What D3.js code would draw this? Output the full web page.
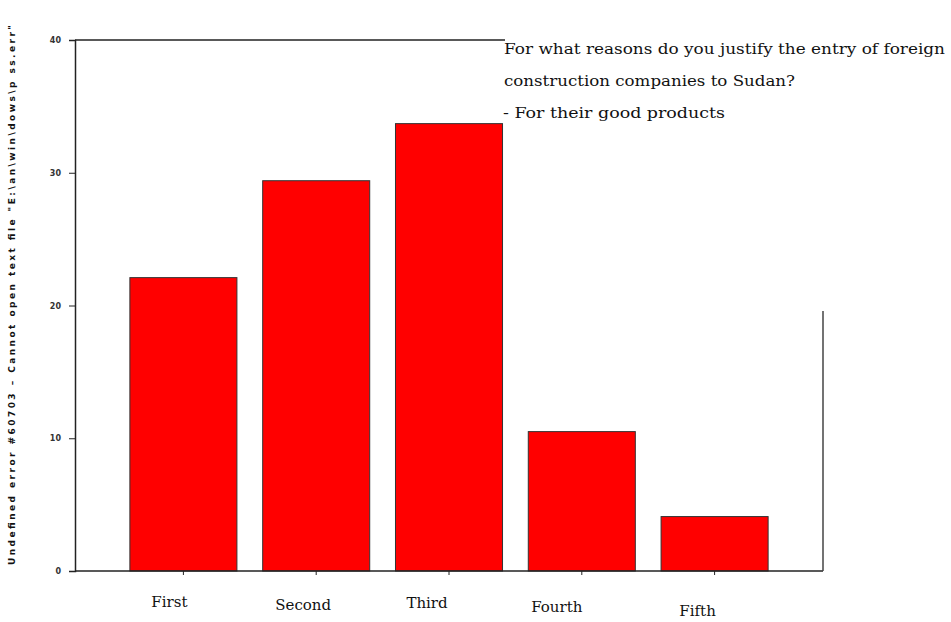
<!DOCTYPE html>
<html><head><meta charset="utf-8">
<script src="https://cdn.jsdelivr.net/npm/d3@7"></script>
<style>body{margin:0;background:#fff;} svg{display:block;}</style>
</head><body>
<svg id="c" width="951" height="622"></svg>
<script>
const categories = ["First","Second","Third","Fourth","Fifth"];
const values = [22.1, 29.4, 33.7, 10.5, 4.1];
const yTicks = [0,10,20,30,40];
const titleLines = ["For what reasons  do you justify the entry of foreign","construction companies to Sudan?","- For their good products"];
const yTitle = "Undefined error #60703  \u2013  Cannot open text file  \"E:\\an\\win\\dows\\p ss.err\"";
const labelDy = [0, 3, 1, 5, 9];
const labelDx = [-14, -13, -22, -25, -17];

const svg = d3.select("#c");
const mLeft = 75, mRight = 823, mTop = 40, mBottom = 571;
const x = d3.scaleBand().domain(categories).range([117, 781]).paddingInner(0.194).paddingOuter(0.097);
const y = d3.scaleLinear().domain([0,40]).range([mBottom, mTop]);

// bars
svg.selectAll("rect.bar").data(values).join("rect")
  .attr("class","bar")
  .attr("x",(d,i)=>x(categories[i]))
  .attr("width",x.bandwidth())
  .attr("y",d=>y(d))
  .attr("height",d=>mBottom-y(d))
  .attr("fill","#ff0000").attr("stroke","#333").attr("stroke-width",1);

// frame lines
svg.append("line").attr("x1",mLeft).attr("x2",mRight).attr("y1",mBottom).attr("y2",mBottom).attr("stroke","#222").attr("stroke-width",1.5);
svg.append("line").attr("x1",mLeft).attr("x2",505).attr("y1",mTop).attr("y2",mTop).attr("stroke","#222").attr("stroke-width",1.5);
svg.append("line").attr("x1",mRight).attr("x2",mRight).attr("y1",311).attr("y2",mBottom).attr("stroke","#444").attr("stroke-width",1.5);

// y axis
const ya = svg.append("g").attr("transform",`translate(${mLeft},0)`)
  .call(d3.axisLeft(y).tickValues(yTicks).tickSize(6).tickFormat(d3.format("d")));
ya.select(".domain").attr("stroke","#222").attr("stroke-width",1.5);
ya.selectAll(".tick line").attr("stroke","#222");
ya.selectAll(".tick text").attr("font-family","DejaVu Sans").attr("font-size",8).attr("font-weight","bold").attr("fill","#333").attr("x",-14);

// x ticks
const xa = svg.append("g").attr("transform",`translate(0,${mBottom})`)
  .call(d3.axisBottom(x).tickSize(4).tickFormat(""));
xa.select(".domain").remove();
xa.selectAll(".tick line").attr("stroke","#222");

svg.selectAll("text.cat").data(categories).join("text")
  .attr("class","cat")
  .attr("x",(d,i)=>x(d)+x.bandwidth()/2+labelDx[i])
  .attr("y",(d,i)=>607+labelDy[i])
  .attr("text-anchor","middle")
  .attr("font-family","DejaVu Serif").attr("font-size",15).attr("fill","#111")
  .text(d=>d);

// title
const titleX = [504, 504, 503];
const titleW = [441, 291, 222];
svg.selectAll("text.title").data(titleLines).join("text")
  .attr("class","title")
  .attr("x",(d,i)=>titleX[i])
  .attr("y",(d,i)=>54+i*32)
  .attr("textLength",(d,i)=>titleW[i]).attr("lengthAdjust","spacingAndGlyphs")
  .attr("font-family","DejaVu Serif").attr("font-size",15).attr("fill","#111")
  .text(d=>d);

// y title
svg.append("text")
  .attr("transform","translate(15,295) rotate(-90)")
  .attr("text-anchor","middle")
  .attr("textLength",540).attr("lengthAdjust","spacing")
  .attr("font-family","DejaVu Sans").attr("font-size",9).attr("font-weight","bold")
  .attr("fill","#111")
  .text(yTitle);
</script>
</body></html>
